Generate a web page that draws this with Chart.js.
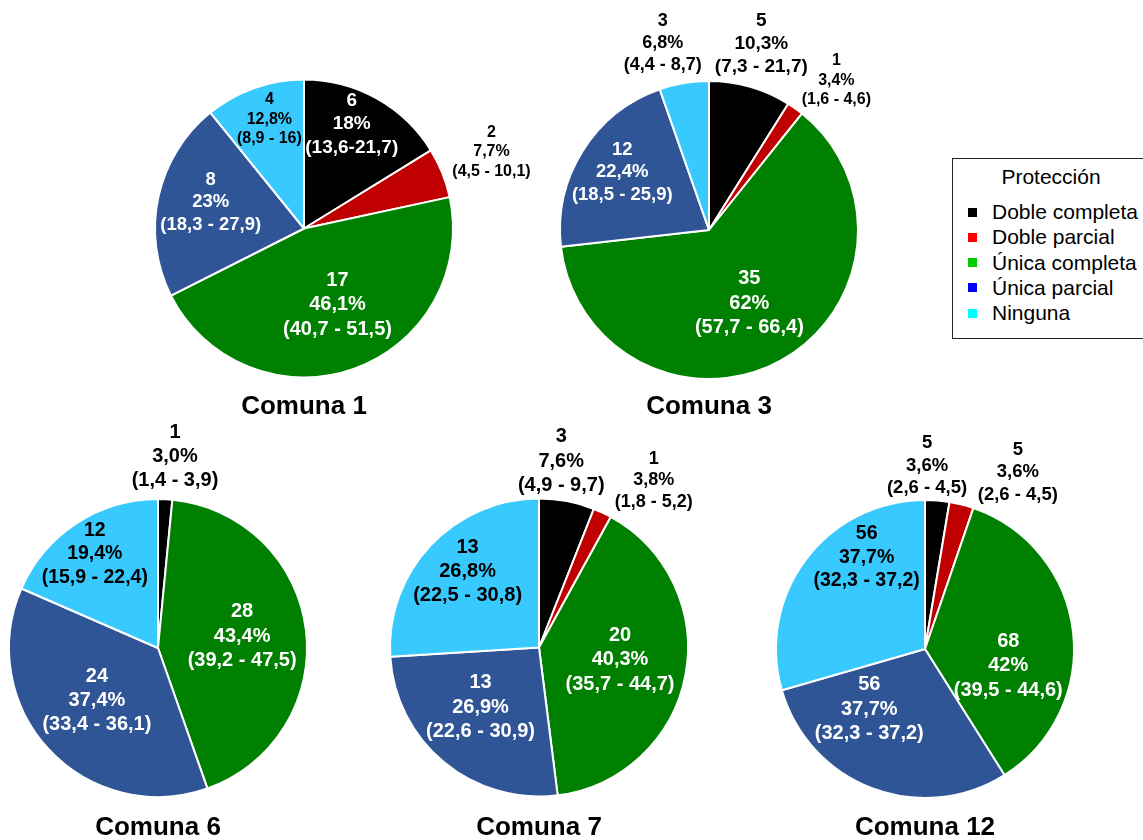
<!DOCTYPE html>
<html>
<head>
<meta charset="utf-8">
<script src="https://cdn.jsdelivr.net/npm/chart.js@4.4.1/dist/chart.umd.min.js"></script>
<style>
  html, body { margin: 0; padding: 0; background: #fff; }
  body { width: 1143px; height: 840px; overflow: hidden; position: relative;
         font-family: "Liberation Sans", Arial, sans-serif; }
  canvas.pie { position: absolute; }
  #legend { position: absolute; left: 952px; top: 158px; width: 240px; height: 181px;
            border: 1.5px solid #222; box-sizing: border-box; color: #000; }
  #legend .ttl { position: absolute; left: 0; width: 196px; top: 6px; text-align: center;
                 font-size: 21px; line-height: 24px; }
  #legend .item { position: absolute; left: 15px; font-size: 21px; line-height: 24px; white-space: nowrap; }
  #legend .sw { position: absolute; left: 0; top: 7.5px; width: 9px; height: 9px; }
  #legend .item span.t { position: absolute; left: 24px; top: 0; }
</style>
</head>
<body>
<div id="legend"></div>
<script>
// Categories and data per district
const categories = ['Doble completa', 'Doble parcial', 'Única completa', 'Única parcial', 'Ninguna'];
const comunas = ['Comuna 1', 'Comuna 3', 'Comuna 6', 'Comuna 7', 'Comuna 12'];

const counts1 = [6, 2, 17, 8, 4];
const pct1 = ['18%', '7,7%', '46,1%', '23%', '12,8%'];
const ci1 = ['(13,6-21,7)', '(4,5 - 10,1)', '(40,7 - 51,5)', '(18,3 - 27,9)', '(8,9 - 16)'];

const counts3 = [5, 1, 35, 12, 3];
const pct3 = ['10,3%', '3,4%', '62%', '22,4%', '6,8%'];
const ci3 = ['(7,3 - 21,7)', '(1,6 - 4,6)', '(57,7 - 66,4)', '(18,5 - 25,9)', '(4,4 - 8,7)'];

const counts6 = [1, null, 28, 24, 12];
const pct6 = ['3,0%', null, '43,4%', '37,4%', '19,4%'];
const ci6 = ['(1,4 - 3,9)', null, '(39,2 - 47,5)', '(33,4 - 36,1)', '(15,9 - 22,4)'];

const counts7 = [3, 1, 20, 13, 13];
const pct7 = ['7,6%', '3,8%', '40,3%', '26,9%', '26,8%'];
const ci7 = ['(4,9 - 9,7)', '(1,8 - 5,2)', '(35,7 - 44,7)', '(22,6 - 30,9)', '(22,5 - 30,8)'];

const counts12 = [5, 5, 68, 56, 56];
const pct12 = ['3,6%', '3,6%', '42%', '37,7%', '37,7%'];
const ci12 = ['(2,6 - 4,5)', '(2,6 - 4,5)', '(39,5 - 44,6)', '(32,3 - 37,2)', '(32,3 - 37,2)'];

// Styling
const sliceColors = ['#000000', '#C00000', '#008000', '#2F5597', '#38C9FF'];
const legendColors = ['#000000', '#FF0000', '#00CC00', '#0000FF', '#00FFFF'];
const insideTextColors = ['#FFFFFF', '#FFFFFF', '#FFFFFF', '#FFFFFF', '#000000'];
const FONT = '"Liberation Sans", Arial, sans-serif';

// Label placement per slice: angular shift (deg) from slice middle, radius factor, font size
const place1 = [
  { da: -4.6, rf: 0.77, size: 19 }, { da: -0.4, rf: 1.36, size: 16 },
  { da: -4.2, rf: 0.56, size: 20 }, { da: 3.5, rf: 0.65, size: 18.5 }, { da: 1.9, rf: 0.77, size: 16 }];
const place3 = [
  { da: -0.4, rf: 1.30, size: 19 }, { da: 5, rf: 1.32, size: 16 },
  { da: 0, rf: 0.56, size: 20 }, { da: 1.6, rf: 0.70, size: 18.5 }, { da: -4.3, rf: 1.29, size: 18 }];
const place6 = [
  { da: 2.3, rf: 1.29, size: 20 }, null,
  { da: -1, rf: 0.57, size: 20 }, { da: 2.3, rf: 0.54, size: 20 }, { da: -0.7, rf: 0.76, size: 19.5 }];
const place7 = [
  { da: -4, rf: 1.26, size: 20 }, { da: 9.3, rf: 1.36, size: 18 },
  { da: -2.3, rf: 0.55, size: 20 }, { da: 4.9, rf: 0.56, size: 20 }, { da: 3.6, rf: 0.70, size: 20 }];
const place12 = [
  { da: -4.1, rf: 1.23, size: 18.5 }, { da: 13.5, rf: 1.34, size: 18.5 },
  { da: 18, rf: 0.57, size: 20 }, { da: 22, rf: 0.55, size: 20 }, { da: 20.6, rf: 0.73, size: 19.5 }];

// Pie centres, canvas row top and title centre line
const layouts = [
  { cx: 304, cy: 228.5, top: 0, titleY: 406.5 },
  { cx: 708.5, cy: 230, top: 0, titleY: 406.5 },
  { cx: 158, cy: 648, top: 420, titleY: 827.5 },
  { cx: 538.5, cy: 647.5, top: 420, titleY: 827.5 },
  { cx: 925, cy: 649, top: 420, titleY: 827.5 }
];
const CANVAS_W = 460, CANVAS_H = 425, RADIUS = 149, TITLE_SIZE = 26, TITLE_LH = 1.2;

const pies = [
  { counts: counts1, pct: pct1, ci: ci1, place: place1 },
  { counts: counts3, pct: pct3, ci: ci3, place: place3 },
  { counts: counts6, pct: pct6, ci: ci6, place: place6 },
  { counts: counts7, pct: pct7, ci: ci7, place: place7 },
  { counts: counts12, pct: pct12, ci: ci12, place: place12 }
];

function sliceLabelPlugin(cfg) {
  return {
    id: 'sliceLabels',
    afterDatasetsDraw(chart) {
      const meta = chart.getDatasetMeta(0);
      const ctx = chart.ctx;
      meta.data.forEach((arc, i) => {
        const n = cfg.counts[i];
        const p = cfg.place[i];
        if (n == null || !p) return;
        const { x, y, startAngle, endAngle, outerRadius } =
          arc.getProps(['x', 'y', 'startAngle', 'endAngle', 'outerRadius'], true);
        const a = (startAngle + endAngle) / 2 + p.da * Math.PI / 180;
        const r = outerRadius * p.rf;
        const lx = x + Math.cos(a) * r;
        const ly = y + Math.sin(a) * r;
        const lines = [String(n), cfg.pct[i], cfg.ci[i]];
        const lh = p.size * 1.22;
        ctx.save();
        ctx.font = 'bold ' + p.size + 'px ' + FONT;
        ctx.fillStyle = p.rf > 1 ? '#000000' : insideTextColors[i];
        ctx.textAlign = 'center';
        ctx.textBaseline = 'middle';
        lines.forEach((t, k) => ctx.fillText(t, lx, ly + (k - 1) * lh));
        ctx.restore();
      });
    }
  };
}

pies.forEach((cfg, idx) => {
  const L = layouts[idx];
  const canvas = document.createElement('canvas');
  canvas.className = 'pie';
  canvas.width = CANVAS_W;
  canvas.height = CANVAS_H;
  canvas.style.width = CANVAS_W + 'px';
  canvas.style.height = CANVAS_H + 'px';
  canvas.style.left = (L.cx - CANVAS_W / 2) + 'px';
  canvas.style.top = L.top + 'px';
  document.body.appendChild(canvas);

  // padding so the chart area is centred on the pie centre and the title sits on its line
  const titleBox = TITLE_SIZE * TITLE_LH;
  const padBottom = L.top + CANVAS_H - L.titleY - titleBox / 2;
  const areaBottom = CANVAS_H - padBottom - titleBox;
  const padTop = 2 * (L.cy - L.top) - areaBottom;

  new Chart(canvas, {
    type: 'pie',
    data: {
      labels: categories,
      datasets: [{
        data: cfg.counts,
        backgroundColor: sliceColors,
        borderColor: '#FFFFFF',
        borderWidth: 2,
        radius: RADIUS,
        hoverOffset: 0
      }]
    },
    options: {
      responsive: false,
      animation: false,
      events: [],
      layout: { padding: { top: padTop, bottom: padBottom, left: 0, right: 0 } },
      plugins: {
        legend: { display: false },
        tooltip: { enabled: false },
        title: {
          display: true,
          text: comunas[idx],
          position: 'bottom',
          color: '#000000',
          padding: 0,
          font: { family: FONT, size: TITLE_SIZE, weight: 'bold', lineHeight: TITLE_LH }
        }
      }
    },
    plugins: [sliceLabelPlugin(cfg)]
  });
});

// Legend box
const legend = document.getElementById('legend');
const ttl = document.createElement('div');
ttl.className = 'ttl';
ttl.textContent = 'Protección';
legend.appendChild(ttl);
categories.forEach((c, i) => {
  const it = document.createElement('div');
  it.className = 'item';
  it.style.top = (41 + i * 25.3) + 'px';
  const sw = document.createElement('span');
  sw.className = 'sw';
  sw.style.background = legendColors[i];
  const t = document.createElement('span');
  t.className = 't';
  t.textContent = c;
  it.appendChild(sw);
  it.appendChild(t);
  legend.appendChild(it);
});
</script>
</body>
</html>
